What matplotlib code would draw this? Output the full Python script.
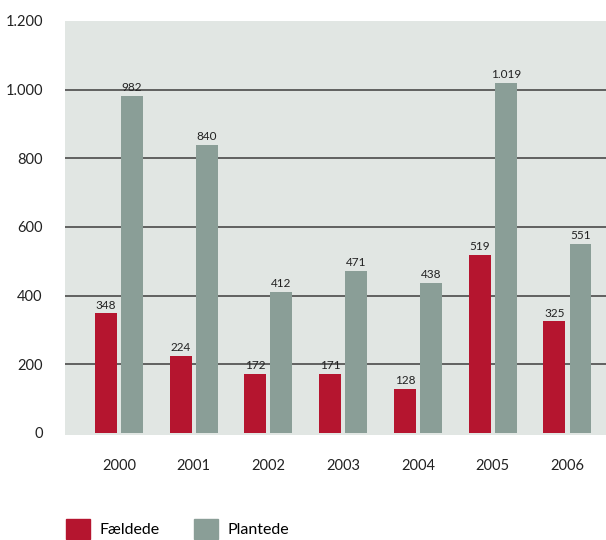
import matplotlib
matplotlib.use("Agg")
import matplotlib.pyplot as plt
from matplotlib.patches import Rectangle
import numpy as np

years = ["2000", "2001", "2002", "2003", "2004", "2005", "2006"]
faeldede = [348, 224, 172, 171, 128, 519, 325]
plantede = [982, 840, 412, 471, 438, 1019, 551]
yticks = [0, 200, 400, 600, 800, 1000, 1200]
ytick_labels = ["0", "200", "400", "600", "800", "1.000", "1.200"]

RED = "#B5152F"
GRAY = "#8A9E97"
BG = "#E1E6E3"

plt.rcParams['font.family'] = ['Lato', 'DejaVu Sans']

W, H = 606, 540
fig = plt.figure(figsize=(W / 100, H / 100), dpi=100)
ax = fig.add_axes([65 / W, 1 - 435 / H, (606 - 65) / W, (435 - 21) / H])
ax.set_facecolor(BG)

x = np.arange(len(years))
bw = 0.294
off = 0.174

for yv in yticks[1:-1]:
    ax.axhline(yv, color="#4a4a4a", lw=1.2, zorder=1)

ax.bar(x - off, faeldede, bw, color=RED, zorder=2)
ax.bar(x + off, plantede, bw, color=GRAY, zorder=2)

def fmt(v):
    return f"{v:,}".replace(",", ".")

for xi, v in zip(x - off, faeldede):
    ax.annotate(fmt(v), (xi, v), xytext=(0, 2), textcoords="offset points",
                ha="center", va="bottom", fontsize=8.5, color="#222222", zorder=3)
for xi, v in zip(x + off, plantede):
    ax.annotate(fmt(v), (xi, v), xytext=(0, 2), textcoords="offset points",
                ha="center", va="bottom", fontsize=8.5, color="#222222", zorder=3)

ax.set_xlim(-0.72, 6.515)
ax.set_ylim(-6, 1200)
ax.set_yticks(yticks)
ax.set_yticklabels(ytick_labels, fontsize=10.5, color="#222222")
ax.set_xticks(x)
ax.set_xticklabels(years, fontsize=10.5, color="#222222")
ax.tick_params(axis="y", length=0, pad=16)
ax.tick_params(axis="x", length=0, pad=17)
for s in ax.spines.values():
    s.set_visible(False)

handles = [Rectangle((0, 0), 1, 1, color=RED), Rectangle((0, 0), 1, 1, color=GRAY)]
fig.legend(handles, ["Fældede", "Plantede"], loc="center left",
           bbox_to_anchor=(60 / W, 1 - 529 / H), ncol=2, frameon=False,
           fontsize=11.5, handlelength=1.5, handleheight=1.5,
           handletextpad=0.6, columnspacing=2.1, borderaxespad=0)

fig.savefig("out.png", dpi=100, facecolor="white")
